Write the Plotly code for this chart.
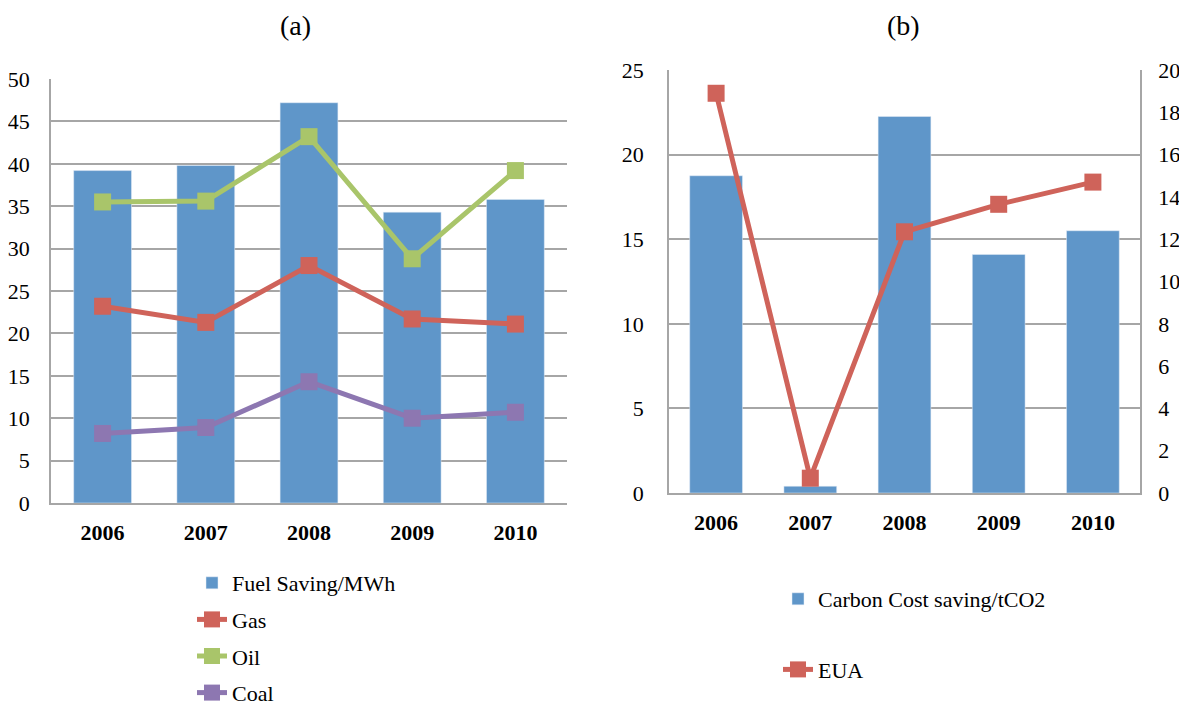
import plotly.graph_objects as go

years = ["2006", "2007", "2008", "2009", "2010"]
fuel_saving = [39.2, 39.8, 47.2, 34.3, 35.8]
gas = [23.2, 21.3, 28.0, 21.7, 21.1]
oil = [35.5, 35.6, 43.2, 28.8, 39.2]
coal = [8.2, 8.9, 14.3, 10.0, 10.7]

carbon_saving = [18.75, 0.4, 22.25, 14.1, 15.5]
eua = [18.9, 0.7, 12.35, 13.65, 14.7]

BAR = "#5F96C9"
GAS = "#CF635A"
OIL = "#A9C56A"
COAL = "#8D77B1"
GRID = "#A6A6A6"
FONT = "Liberation Serif"

fig = go.Figure()

fig.add_trace(go.Bar(x=years, y=fuel_saving, name="Fuel Saving/MWh", marker_color=BAR,
                     xaxis="x", yaxis="y", legend="legend", legendgroup="a1"))
for name, vals, col, g in [("Gas", gas, GAS, "a2"), ("Oil", oil, OIL, "a3"), ("Coal", coal, COAL, "a4")]:
    fig.add_trace(go.Scatter(x=years, y=vals, name=name, mode="lines+markers",
                             line=dict(color=col, width=5),
                             marker=dict(symbol="square", size=17, color=col),
                             xaxis="x", yaxis="y", legend="legend", legendgroup=g))

fig.add_trace(go.Bar(x=years, y=carbon_saving, name="Carbon Cost saving/tCO2", marker_color=BAR,
                     xaxis="x2", yaxis="y2", legend="legend2", legendgroup="b1"))
fig.add_trace(go.Scatter(x=years, y=eua, name="EUA", mode="lines+markers",
                         line=dict(color=GAS, width=5),
                         marker=dict(symbol="square", size=17, color=GAS),
                         xaxis="x2", yaxis="y3", legend="legend2", legendgroup="b2"))

# page has an 8px body margin: figure is placed at (8, 8)
OFF = 8
W, H = 1187 - OFF, 707 - OFF
def px(x): return (x - OFF) / W
def py(y): return 1 - (y - OFF) / H

tickfont = dict(family=FONT, size=22, color="black")
xtickfont = dict(family=FONT, size=22, color="black", weight="bold")

fig.update_layout(
    width=W, height=H,
    margin=dict(l=0, r=0, t=0, b=0, autoexpand=False),
    paper_bgcolor="white", plot_bgcolor="white",
    font=dict(family=FONT, size=22, color="black"),
    bargap=0.44,
    xaxis=dict(domain=[px(51), px(567)], anchor="y", tickfont=xtickfont, automargin=False,
               showline=True, linecolor=GRID, linewidth=1.5, ticks="", ticklabelstandoff=9),
    yaxis=dict(domain=[py(503), py(79)], anchor="x", range=[0, 50], dtick=5, automargin=False,
               tickfont=tickfont, showgrid=True, gridcolor=GRID, gridwidth=1.5,
               showline=True, linecolor=GRID, linewidth=1.5, ticks="", ticklabelstandoff=15,
               zeroline=False),
    xaxis2=dict(domain=[px(669), px(1140)], anchor="y2", tickfont=xtickfont, automargin=False,
                showline=True, linecolor=GRID, linewidth=1.5, ticks="", ticklabelstandoff=9),
    yaxis2=dict(domain=[py(493), py(70)], anchor="x2", range=[0, 25], dtick=5, automargin=False,
                tickfont=tickfont, showgrid=True, gridcolor=GRID, gridwidth=1.5,
                showline=True, linecolor=GRID, linewidth=1.5, ticks="", ticklabelstandoff=19,
                zeroline=False),
    yaxis3=dict(overlaying="y2", side="right", anchor="x2", range=[0, 20], dtick=2, automargin=False,
                tickfont=tickfont, showgrid=False, showline=True, linecolor=GRID,
                linewidth=1.5, ticks="", ticklabelstandoff=12, zeroline=False),
    legend=dict(x=px(192), y=py(562), xanchor="left", yanchor="top", xref="container", yref="container",
                font=dict(family=FONT, size=22, color="black"),
                tracegroupgap=5, traceorder="grouped", bgcolor="rgba(0,0,0,0)"),
    legend2=dict(x=px(778), y=py(578), xanchor="left", yanchor="top", xref="container", yref="container",
                 font=dict(family=FONT, size=22, color="black"),
                 tracegroupgap=39, traceorder="grouped", bgcolor="rgba(0,0,0,0)"),
    annotations=[
        dict(text="(a)", x=px(295), y=py(25), xref="paper", yref="paper", xanchor="center", yanchor="middle",
             showarrow=False, font=dict(family=FONT, size=28, color="black")),
        dict(text="(b)", x=px(903), y=py(25), xref="paper", yref="paper", xanchor="center", yanchor="middle",
             showarrow=False, font=dict(family=FONT, size=28, color="black")),
    ],
)

fig.write_html("out.html")
